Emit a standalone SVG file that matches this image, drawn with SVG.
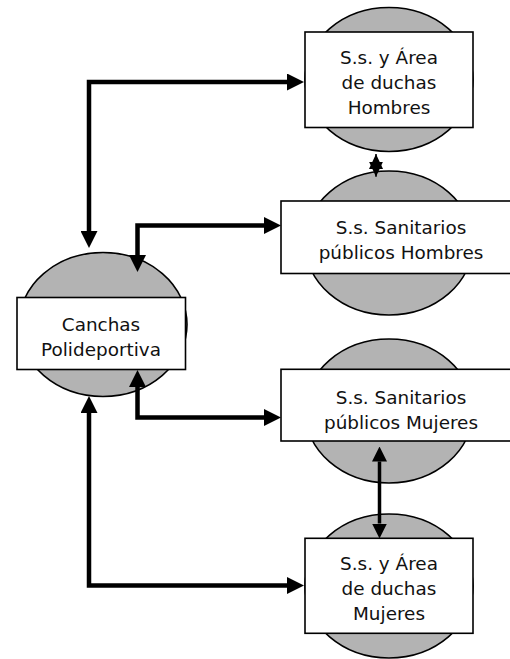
<svg xmlns="http://www.w3.org/2000/svg" width="510" height="659" viewBox="0 0 510 659">
<style>
.circ{fill:#b3b3b3;stroke:#000;stroke-width:1.6}
.box{fill:#fff;stroke:#000;stroke-width:1.6}
.lbl{font-family:"DejaVu Sans","Liberation Sans",sans-serif;font-size:18.4px;fill:#111;text-anchor:middle}
.thick{fill:none;stroke:#000;stroke-width:4.5;stroke-linejoin:miter}
.thin{fill:none;stroke:#000;stroke-width:3.5}
</style>
<defs>
<marker id="ah" viewBox="0 0 17 17" markerWidth="17" markerHeight="17" refX="0" refY="8.5" orient="auto-start-reverse" markerUnits="userSpaceOnUse">
<path d="M0,0 L17,8.5 L0,17 z" fill="#000"/>
</marker>
<marker id="as" viewBox="0 0 15 15" markerWidth="15" markerHeight="15" refX="0" refY="7.5" orient="auto-start-reverse" markerUnits="userSpaceOnUse">
<path d="M0,0 L15,7.5 L0,15 z" fill="#000"/>
</marker>
<marker id="ast" viewBox="0 0 15 14" markerWidth="15" markerHeight="14" refX="15" refY="7" orient="auto-start-reverse" markerUnits="userSpaceOnUse">
<path d="M0,0 L15,7 L0,14 z" fill="#000"/>
</marker>
</defs>
<g id="node-duchas-hombres">
<ellipse class="circ" cx="389" cy="79.5" rx="84" ry="72"/>
<rect class="box" x="305" y="32" width="168" height="95.5"/>
<text class="lbl" x="389" y="63.5">S.s. y Área</text>
<text class="lbl" x="389" y="88.5">de duchas</text>
<text class="lbl" x="389" y="113.5">Hombres</text>
</g>
<g id="node-sanitarios-hombres">
<ellipse class="circ" cx="389" cy="243" rx="84" ry="72"/>
<rect class="box" x="281" y="201" width="240" height="72.5"/>
<text class="lbl" x="401" y="234">S.s. Sanitarios</text>
<text class="lbl" x="401" y="259">públicos Hombres</text>
</g>
<g id="node-canchas">
<ellipse class="circ" cx="103" cy="324.5" rx="84" ry="72"/>
<rect class="box" x="17" y="297.5" width="168.5" height="72"/>
<text class="lbl" x="101" y="331">Canchas</text>
<text class="lbl" x="101" y="355.5">Polideportiva</text>
</g>
<g id="node-sanitarios-mujeres">
<ellipse class="circ" cx="389" cy="411" rx="84" ry="72"/>
<rect class="box" x="281" y="369.3" width="240" height="71.7"/>
<text class="lbl" x="401" y="404">S.s. Sanitarios</text>
<text class="lbl" x="401" y="428.5">públicos Mujeres</text>
</g>
<g id="node-duchas-mujeres">
<ellipse class="circ" cx="389" cy="586" rx="84" ry="72"/>
<rect class="box" x="305" y="538.3" width="168" height="95"/>
<text class="lbl" x="389" y="570">S.s. y Área</text>
<text class="lbl" x="389" y="595">de duchas</text>
<text class="lbl" x="389" y="620">Mujeres</text>
</g>
<g id="connectors">
<path class="thick" d="M89,231 L89,82 L287,82" marker-start="url(#ah)" marker-end="url(#ah)"/>
<path class="thick" d="M137.5,255 L137.5,225.5 L264,225.5" marker-start="url(#ah)" marker-end="url(#ah)"/>
<path class="thick" d="M137.5,387 L137.5,417.5 L264,417.5" marker-start="url(#ah)" marker-end="url(#ah)"/>
<path class="thick" d="M89,413 L89,585.5 L287,585.5" marker-start="url(#ah)" marker-end="url(#ah)"/>
<path class="thin" d="M379.5,461.5 L379.5,523.5" marker-start="url(#as)" marker-end="url(#as)"/>
<path fill="none" stroke="#000" stroke-width="1.5" d="M376,176.7 L376,154" marker-start="url(#ast)" marker-end="url(#ast)"/>
</g>
</svg>
